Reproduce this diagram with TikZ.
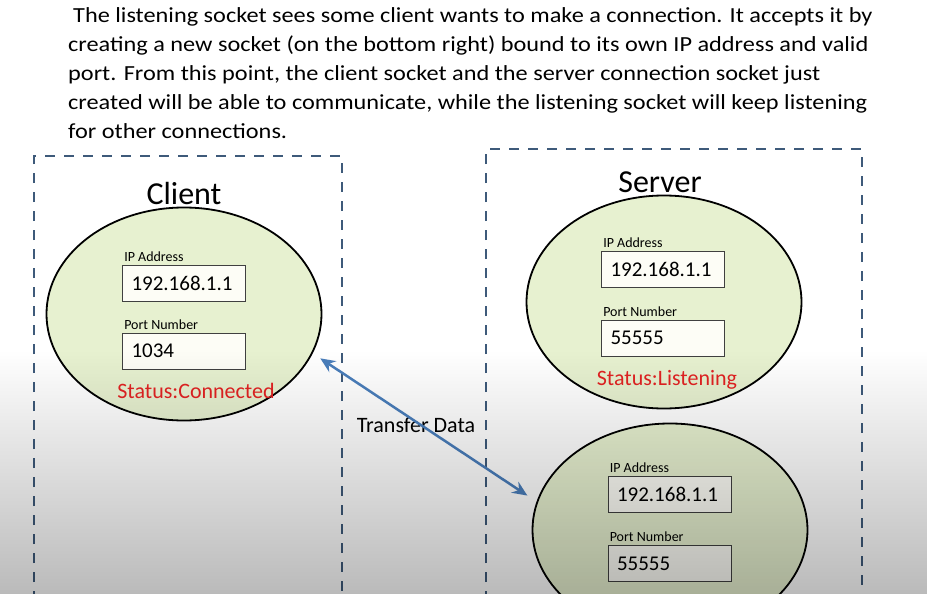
\documentclass[tikz,border=0pt]{standalone}
\usepackage{fontspec}
\setmainfont{Carlito}
\newfontfamily\descfont[FakeStretch=1.13]{Carlito}
\usetikzlibrary{shapes.geometric,arrows.meta,positioning}

\definecolor{sockgreen}{RGB}{231,241,208}
\definecolor{fieldwhite}{RGB}{253,253,246}
\definecolor{frameblue}{RGB}{62,90,122}
\definecolor{linkblue}{RGB}{74,126,187}
\definecolor{statred}{RGB}{226,34,34}

\begin{document}
\begin{tikzpicture}[x=1pt, y=-1pt, >={Stealth[length=15pt, width=13pt, inset=5pt]},
    sock/.style={ellipse, draw, line width=1.8pt, fill=sockgreen, minimum width=275pt, minimum height=213pt},
    field/.style={draw=black!75, line width=0.9pt, fill=fieldwhite, minimum height=36pt, text width=105pt,
        inner xsep=9pt, inner ysep=0pt, align=left, font=\fontsize{21}{25}\selectfont},
    lbl/.style={inner sep=0pt, font=\fontsize{14}{16}\selectfont},
    status/.style={text=statred, anchor=base, inner sep=0pt, font=\fontsize{22}{26}\selectfont},
    frame/.style={draw=frameblue, line width=2.2pt, dash pattern=on 10pt off 9pt},
    title/.style={inner sep=0pt, font=\fontsize{32}{38}\selectfont},
    link/.style={draw=linkblue, line width=2.5pt, shorten <=9pt, shorten >=11pt}
]
    \clip (0,0) rectangle (927,594);
    \fill[white] (0,0) rectangle (927,594);

    % Descricao
    \node[anchor=north west, inner sep=0pt, align=left, font=\descfont\fontsize{21.5}{29}\selectfont] (desc) at (68,7)
        {\hspace*{5pt}The listening socket sees some client wants to make a connection. It accepts it by\\
         creating a new socket (on the bottom right) bound to its own IP address and valid\\
         port. From this point, the client socket and the server connection socket just\\
         created will be able to communicate, while the listening socket will keep listening\\
         for other connections.};

    % Caixas tracejadas (saem por baixo da figura)
    \draw[frame] (34,620) -- (34,156) -- (342,156) -- (342,620);
    \draw[frame] (486,620) -- (486,149) -- (862,149) -- (862,620);

    % Titulos
    \node[title] (tcli) at (184,194) {Client};
    \node[title] (tsrv) at (660,182) {Server};

    % Socket do cliente
    \node[sock] (cli) at (184,314) {};
    \node[field] (cliip) at (184,283) {192.168.1.1};
    \node[field] (cliport) at (184,351) {1034};
    \node[lbl, above right=3pt and 2pt of cliip.north west] (cliiplbl) {IP Address};
    \node[lbl, above right=3pt and 2pt of cliport.north west] (cliportlbl) {Port Number};
    \node[status] (clistat) at (196,398) {Status:Connected};

    % Socket do servidor (escuta)
    \node[sock] (srv) at (664,302) {};
    \node[field] (srvip) at (663,269) {192.168.1.1};
    \node[field] (srvport) at (663,338) {55555};
    \node[lbl, above right=3pt and 2pt of srvip.north west] (srviplbl) {IP Address};
    \node[lbl, above right=3pt and 2pt of srvport.north west] (srvportlbl) {Port Number};
    \node[status] (srvstat) at (667,385) {Status:Listening};

    % Socket novo (conexao aceita)
    \node[sock] (acc) at (670,530) {};
    \node[field] (accip) at (669.5,494.5) {192.168.1.1};
    \node[field] (accport) at (669.5,563.5) {55555};
    \node[lbl, above right=3pt and 2pt of accip.north west] (acciplbl) {IP Address};
    \node[lbl, above right=3pt and 2pt of accport.north west] (accportlbl) {Port Number};

    % Transferencia de dados
    \node[anchor=base, inner sep=0pt, font=\fontsize{22}{26}\selectfont] (xfer) at (416,432) {Transfer Data};
    \draw[link, <->] (cli.-17) -- (acc.168);

    % Sombreado cinza na parte de baixo
    \begin{scope}[blend mode=multiply]
        \shade[top color=white, bottom color=black!27] (0,350) rectangle (927,594);
    \end{scope}

\end{tikzpicture}
\end{document}
